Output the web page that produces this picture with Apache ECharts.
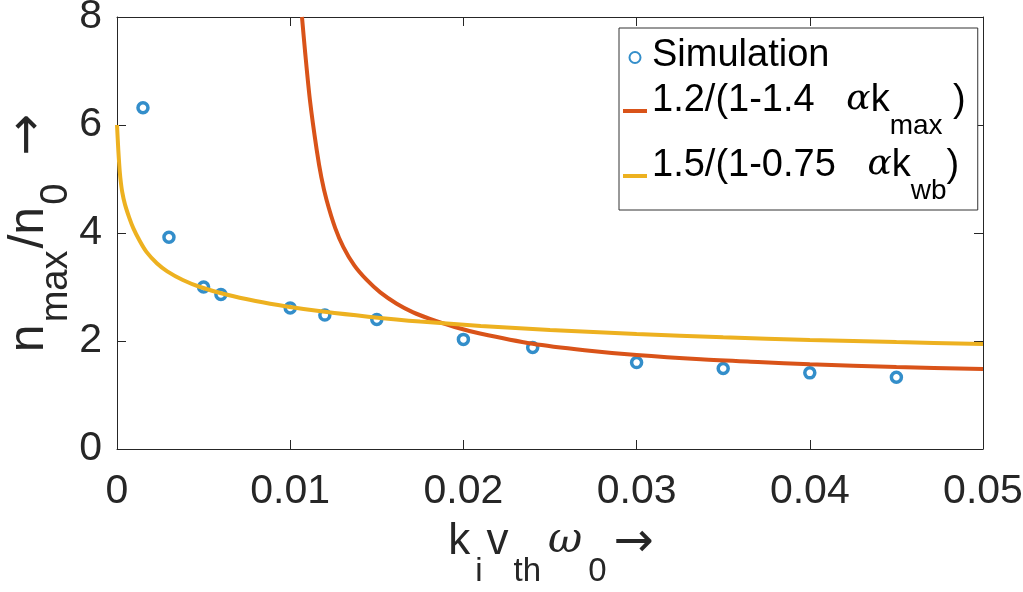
<!DOCTYPE html>
<html><head><meta charset="utf-8">
<script src="https://cdn.jsdelivr.net/npm/echarts@6/dist/echarts.min.js"></script>
<style>html,body{margin:0;padding:0;background:#fff}#c{width:1023px;height:592px}</style>
</head><body><div id="c"></div>
<script>
// ---- data ----
const simX = [0.0015, 0.003, 0.005, 0.006, 0.010, 0.012, 0.015, 0.020, 0.024, 0.030, 0.035, 0.040, 0.045];
const simY = [6.32, 3.92, 3.00, 2.86, 2.61, 2.48, 2.40, 2.03, 1.88, 1.60, 1.49, 1.41, 1.33];

const maxFitX = [0.01068, 0.01085, 0.01114, 0.01153, 0.0118, 0.0121, 0.0126, 0.01307, 0.0137, 0.01442, 0.0152, 0.01615, 0.0171, 0.01807, 0.0195, 0.02096, 0.024, 0.027, 0.030, 0.0337, 0.037, 0.040, 0.045, 0.050];
const maxFitY = [8.0, 7.39, 6.46, 5.54, 5.03, 4.61, 4.09, 3.74, 3.40, 3.13, 2.90, 2.69, 2.53, 2.41, 2.26, 2.14, 1.95, 1.83, 1.74, 1.66, 1.61, 1.57, 1.52, 1.48];

const wbFitX = [0, 0.00004, 0.000075, 0.00013, 0.00019, 0.0003, 0.00046, 0.0007, 0.00094, 0.0013, 0.0017, 0.0023, 0.0029, 0.0038, 0.0048, 0.0063, 0.008, 0.0098, 0.012, 0.0145, 0.0175, 0.021, 0.025, 0.030, 0.035, 0.040, 0.045, 0.050];
const wbFitY = [6.0, 5.75, 5.54, 5.26, 5.03, 4.76, 4.53, 4.29, 4.09, 3.86, 3.65, 3.44, 3.29, 3.13, 3.00, 2.86, 2.74, 2.64, 2.54, 2.45, 2.36, 2.28, 2.205, 2.13, 2.07, 2.02, 1.98, 1.945];

const xTickLabels = ['0', '0.01', '0.02', '0.03', '0.04', '0.05'];
const yTickLabels = ['0', '2', '4', '6', '8'];

const seriesNames = ['Simulation', '1.2/(1-1.4 αk_max)', '1.5/(1-0.75 αk_wb)'];
const legendRich = {
  'Simulation': '{b|Simulation}',
  '1.2/(1-1.4 αk_max)': '{b|1.2/(1-1.4   }{g|α}{b|k}{s|max}{b| )}',
  '1.5/(1-0.75 αk_wb)': '{b|1.5/(1-0.75   }{g|α}{b|k}{s|wb}{b|)}'
};
const xName = '{b|k}{s|i}{b|v}{s|th}{g|ω}{s|0}{a|→}';
const yName = '{b|n}{s|max}{b|/n}{s|0}{a|→}';

// ---- chart ----
const SANS = "'Liberation Sans', Arial, Helvetica, sans-serif";
const SERIF = "'DejaVu Serif', 'Liberation Serif', serif";
const ARROW = "'DejaVu Sans', sans-serif";
const AX = '#262626';
const zip = (xs, ys) => xs.map((x, i) => [x, ys[i]]);

const chart = echarts.init(document.getElementById('c'));
chart.setOption({
  animation: false,
  backgroundColor: '#fff',
  grid: { left: 117, right: 40, top: 17, bottom: 143, containLabel: false, outerBoundsMode: 'none' },
  xAxis: [{
    type: 'value', min: 0, max: 0.05, interval: 0.01, position: 'bottom',
    axisLine: { show: true, onZero: false, lineStyle: { color: AX, width: 1 } },
    axisTick: { show: true, inside: true, length: 9, lineStyle: { color: AX } },
    axisLabel: { fontSize: 41, color: AX, margin: 22, fontFamily: SANS,
      formatter: v => xTickLabels[Math.round(v / 0.01)] },
    splitLine: { show: false },
    name: xName, nameLocation: 'middle', nameGap: 71, nameMoveOverlap: false,
    nameTextStyle: { color: AX, fontFamily: SANS, rich: {
      b: { fontSize: 44, fontFamily: SANS, color: AX, lineHeight: 48, verticalAlign: 'top', padding: [0, 2, 0, 2] },
      g: { fontSize: 42, fontFamily: SERIF, fontStyle: 'italic', color: AX, lineHeight: 48, verticalAlign: 'top', padding: [0, 3, 0, 5] },
      a: { fontSize: 48, fontFamily: ARROW, color: AX, lineHeight: 48, verticalAlign: 'top', padding: [0, 0, 0, 5] },
      s: { fontSize: 33, fontFamily: SANS, color: AX, padding: [35, 2, 0, 3], lineHeight: 68, verticalAlign: 'top' }
    } }
  }, {
    type: 'value', min: 0, max: 0.05, interval: 0.01, position: 'top',
    axisLine: { show: true, onZero: false, lineStyle: { color: AX, width: 1 } },
    axisTick: { show: true, inside: true, length: 9, lineStyle: { color: AX } },
    axisLabel: { show: false }, splitLine: { show: false }
  }],
  yAxis: [{
    type: 'value', min: 0, max: 8, interval: 2, position: 'left',
    axisLine: { show: true, onZero: false, lineStyle: { color: AX, width: 1 } },
    axisTick: { show: true, inside: true, length: 9, lineStyle: { color: AX } },
    axisLabel: { fontSize: 41, color: AX, margin: 15, fontFamily: SANS,
      formatter: v => yTickLabels[Math.round(v / 2)] },
    splitLine: { show: false },
    name: yName, nameLocation: 'middle', nameGap: 41, nameMoveOverlap: false,
    nameTextStyle: { color: AX, fontFamily: SANS, rich: {
      b: { fontSize: 50, fontFamily: SANS, color: AX, lineHeight: 54, verticalAlign: 'top' },
      a: { fontSize: 50, fontFamily: ARROW, color: AX, lineHeight: 54, verticalAlign: 'top', padding: [0, 0, 0, 26] },
      s: { fontSize: 38, fontFamily: SANS, color: AX, padding: [34, 2, 0, 2], lineHeight: 72, verticalAlign: 'top' }
    } }
  }, {
    type: 'value', min: 0, max: 8, interval: 2, position: 'right',
    axisLine: { show: true, onZero: false, lineStyle: { color: AX, width: 1 } },
    axisTick: { show: true, inside: true, length: 9, lineStyle: { color: AX } },
    axisLabel: { show: false }, splitLine: { show: false }
  }],
  legend: {
    orient: 'vertical', left: 619, top: 28, padding: [9, 12, 5, 2], itemGap: 7,
    itemWidth: 24, itemHeight: 11,
    backgroundColor: '#fff', borderColor: '#333', borderWidth: 1, borderRadius: 0,
    lineStyle: { width: 4 },
    data: [
      { name: seriesNames[0], icon: 'circle' },
      { name: seriesNames[1], itemStyle: { opacity: 0 } },
      { name: seriesNames[2], itemStyle: { opacity: 0 } }
    ],
    formatter: name => legendRich[name],
    textStyle: { color: '#000', fontFamily: SANS, rich: {
      b: { fontSize: 38, fontFamily: SANS, color: '#000', lineHeight: 41, verticalAlign: 'top' },
      g: { fontSize: 36, fontFamily: SERIF, fontStyle: 'italic', color: '#000', lineHeight: 41, verticalAlign: 'top' },
      s: { fontSize: 28, fontFamily: SANS, color: '#000', padding: [30, 0, 0, 0], lineHeight: 58, verticalAlign: 'top' }
    } }
  },
  series: [{
    name: seriesNames[0], type: 'scatter', data: zip(simX, simY),
    symbol: 'circle', symbolSize: 10,
    itemStyle: { color: 'rgba(255,255,255,0)', borderColor: '#0072BD', borderWidth: 3.5 }
  }, {
    name: seriesNames[1], type: 'line', data: zip(maxFitX, maxFitY),
    symbol: 'none', smooth: 0.3, clip: true,
    lineStyle: { color: '#D95319', width: 4 }, itemStyle: { color: '#D95319' }
  }, {
    name: seriesNames[2], type: 'line', data: zip(wbFitX, wbFitY),
    symbol: 'none', smooth: 0.3, clip: true,
    lineStyle: { color: '#EDB120', width: 4 }, itemStyle: { color: '#EDB120' }
  }]
});
</script>
</body></html>
